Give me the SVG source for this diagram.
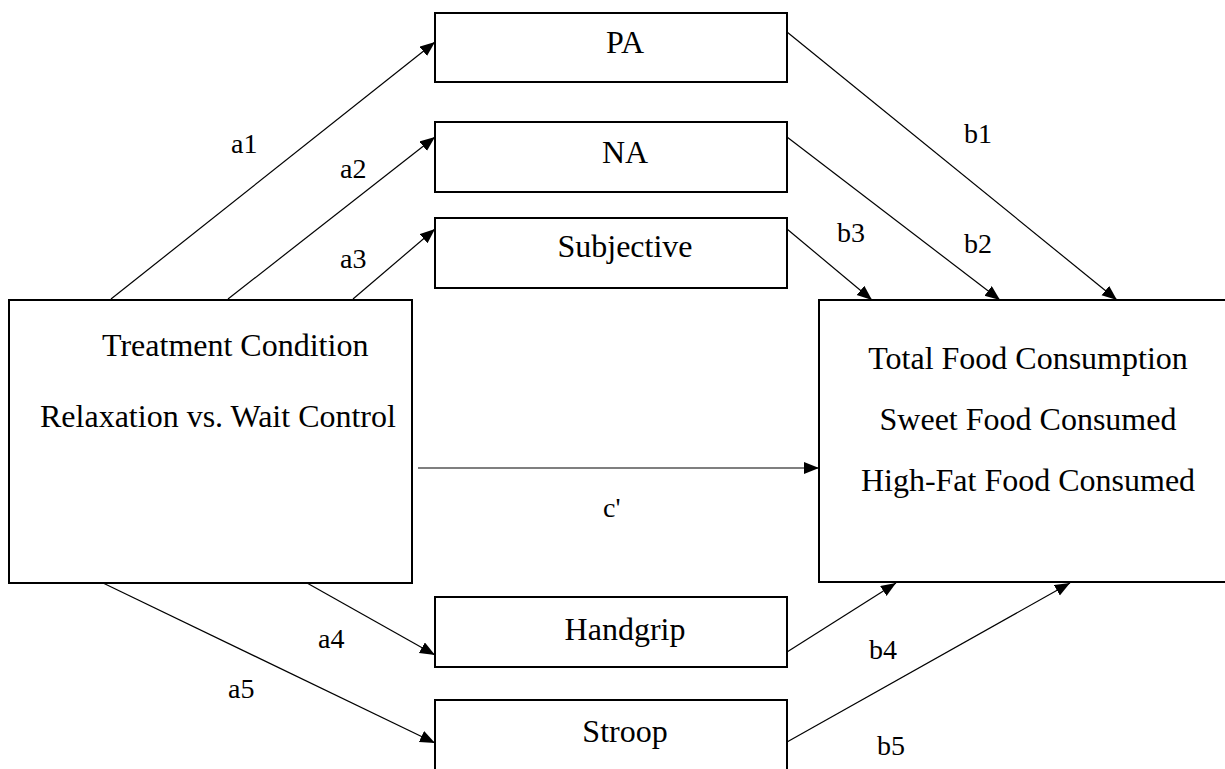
<svg xmlns="http://www.w3.org/2000/svg" width="1225" height="769" viewBox="0 0 1225 769">
<style>
.box{fill:#fff;stroke:#000;stroke-width:2}
.t{font-family:"Liberation Serif","Times New Roman",serif;font-size:32px;fill:#000}
.c{text-anchor:middle}
.lbl{font-family:"Liberation Serif","Times New Roman",serif;font-size:28px;fill:#000}
.ln{stroke:#000;stroke-width:1.2;fill:none;marker-end:url(#ah)}
</style>
<defs>
<marker id="ah" markerUnits="userSpaceOnUse" markerWidth="16" markerHeight="13" refX="15" refY="6" orient="auto">
<path d="M0,0 L15,6 L0,12 z" fill="#000"/>
</marker>
</defs>
<rect width="1225" height="769" fill="#fff"/>
<g id="connectors">
<line class="ln" x1="111" y1="299" x2="435" y2="42"/>
<line class="ln" x1="228" y1="299" x2="435" y2="137"/>
<line class="ln" x1="353" y1="299" x2="435" y2="229"/>
<line class="ln" x1="787" y1="32" x2="1117" y2="300"/>
<line class="ln" x1="787" y1="137" x2="1000" y2="300"/>
<line class="ln" x1="787" y1="229" x2="872" y2="300"/>
<line class="ln" x1="418" y1="468" x2="819" y2="468"/>
<line class="ln" x1="307" y1="583" x2="435" y2="655"/>
<line class="ln" x1="103" y1="583" x2="435" y2="743"/>
<line class="ln" x1="787" y1="652" x2="896" y2="583"/>
<line class="ln" x1="787" y1="742" x2="1070" y2="583"/>
<text class="lbl" x="231" y="153">a1</text>
<text class="lbl" x="340" y="178">a2</text>
<text class="lbl" x="340" y="268">a3</text>
<text class="lbl" x="964" y="143">b1</text>
<text class="lbl" x="964" y="253">b2</text>
<text class="lbl" x="837" y="242">b3</text>
<text class="lbl" x="603" y="517">c'</text>
<text class="lbl" x="318" y="648">a4</text>
<text class="lbl" x="228" y="698">a5</text>
<text class="lbl" x="869" y="659">b4</text>
<text class="lbl" x="877" y="755">b5</text>
</g>
<g id="treatment">
<rect class="box" x="9" y="300" width="403" height="283"/>
<text class="t" x="102" y="356">Treatment Condition</text>
<text class="t" x="40" y="427">Relaxation vs. Wait Control</text>
</g>
<g id="outcome">
<rect class="box" x="819" y="300" width="420" height="282"/>
<text class="t c" x="1028" y="369">Total Food Consumption</text>
<text class="t c" x="1028" y="430">Sweet Food Consumed</text>
<text class="t c" x="1028" y="491">High-Fat Food Consumed</text>
</g>
<g id="pa">
<rect class="box" x="435" y="13" width="352" height="69"/>
<text class="t c" x="625" y="53">PA</text>
</g>
<g id="na">
<rect class="box" x="435" y="122" width="352" height="70"/>
<text class="t c" x="625" y="163">NA</text>
</g>
<g id="subjective">
<rect class="box" x="435" y="218" width="352" height="70"/>
<text class="t c" x="625" y="257">Subjective</text>
</g>
<g id="handgrip">
<rect class="box" x="435" y="597" width="352" height="70"/>
<text class="t c" x="625" y="640">Handgrip</text>
</g>
<g id="stroop">
<rect class="box" x="435" y="700" width="352" height="80"/>
<text class="t c" x="625" y="742">Stroop</text>
</g>
</svg>
